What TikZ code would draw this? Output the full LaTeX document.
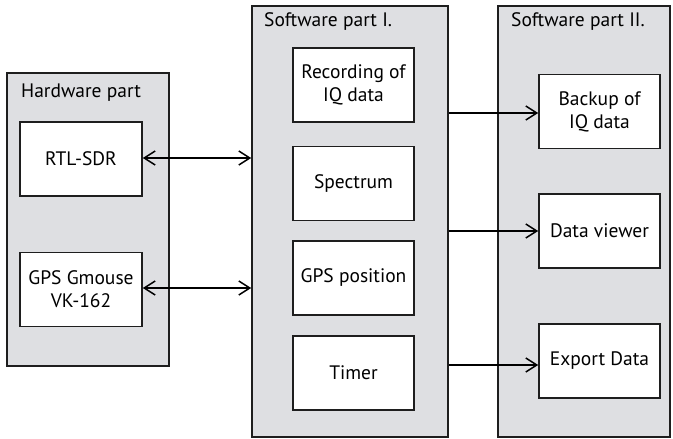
\documentclass[tikz,border=0pt]{standalone}
\usepackage{fontspec}
\setmainfont{PT Sans}
\usetikzlibrary{arrows.meta}
\definecolor{panelgray}{RGB}{222,223,226}
\definecolor{edge}{RGB}{30,30,30}
\tikzset{
  panel/.style={draw=edge, line width=1.6pt, fill=panelgray, inner sep=0pt},
  blockbox/.style={draw=edge, line width=1.6pt, fill=white, minimum width=122pt, minimum height=74pt, inner sep=0pt, align=center, font=\fontsize{19.5}{23}\selectfont},
  paneltitle/.style={anchor=west, inner sep=0pt, font=\fontsize{19.5}{23}\selectfont},
  conn/.style={line width=1.5pt, draw=black},
  bar/.style={-{Straight Barb[length=11pt,width=14pt,line width=1.5pt]}},
  bibar/.style={{Straight Barb[length=11pt,width=14pt,line width=1.5pt]}-{Straight Barb[length=11pt,width=14pt,line width=1.5pt]}}
}
\begin{document}
\begin{tikzpicture}[x=1pt,y=-1pt]
\useasboundingbox (0,0) rectangle (673,439);
% panels
\node[panel, minimum width=162pt, minimum height=293pt] (hw) at (88,219.5) {};
\node[panel, minimum width=196pt, minimum height=431pt] (sw1) at (350,221.5) {};
\node[panel, minimum width=172pt, minimum height=431pt] (sw2) at (584,221.5) {};
% titles
\node[paneltitle] (hwt) at (21,93) {Hardware part};
\node[paneltitle] (sw1t) at (264,22) {Software part I.};
\node[paneltitle] (sw2t) at (511,22) {Software part II.};
% hardware blocks
\node[blockbox] (rtl) at (81,159) {RTL-SDR};
\node[blockbox] (gps) at (81,289.5) {GPS Gmouse\\VK-162};
% software I blocks
\node[blockbox, minimum width=121pt] (rec) at (353.5,85) {Recording of\\IQ data};
\node[blockbox, minimum width=121pt] (spec) at (353.5,183.5) {Spectrum};
\node[blockbox, minimum width=121pt] (gpspos) at (353.5,278) {GPS position};
\node[blockbox, minimum width=121pt] (timer) at (353.5,373) {Timer};
% software II blocks
\node[blockbox, minimum width=121pt] (bak) at (599.5,111.5) {Backup of\\IQ data};
\node[blockbox, minimum width=121pt] (view) at (599.5,231) {Data viewer};
\node[blockbox, minimum width=121pt] (exp) at (599.5,361) {Export Data};
% connectors
\coordinate (y1) at (0,158);
\coordinate (y2) at (0,288);
\coordinate (y3) at (0,113);
\coordinate (y4) at (0,231);
\coordinate (y5) at (0,365);
\draw[conn,bibar] (rtl.east |- y1) -- (sw1.west |- y1);
\draw[conn,bibar] (gps.east |- y2) -- (sw1.west |- y2);
\draw[conn,bar] (sw1.east |- y3) -- (bak.west |- y3);
\draw[conn,bar] (sw1.east |- y4) -- (view.west |- y4);
\draw[conn,bar] (sw1.east |- y5) -- (exp.west |- y5);
\end{tikzpicture}
\end{document}
